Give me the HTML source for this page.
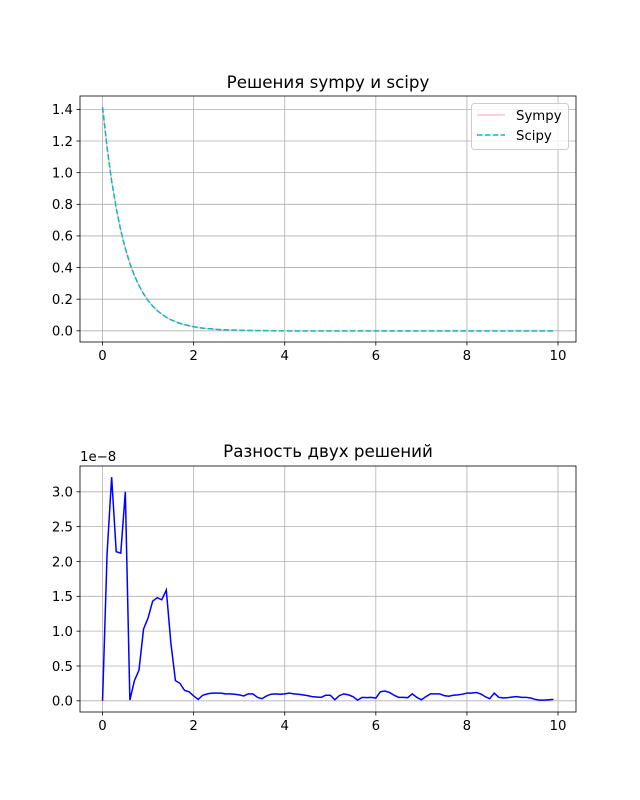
<!DOCTYPE html>
<html><head><meta charset="utf-8"><style>
html,body{margin:0;padding:0;background:#fff;}
svg{display:block;font-family:"DejaVu Sans","Liberation Sans",sans-serif;}
</style></head><body>
<svg id="fig" width="640" height="800"></svg>
<script>
// top chart data (t step 0.1 from 0 to 9.9)
const topCount = 100;
const sympyVals = [1.414,1.158,0.948,0.776,0.635,0.520,0.426,0.349,0.286,0.234,0.191,0.157,0.128,0.105,0.086,0.070,0.058,0.047,0.039,0.032,0.026,0.021,0.017,0.014,0.012,0.0095,0.0078,0.0064,0.0052,0.0043,0.0035,0.0029,0.0023,0.0019,0.0016,0.0013,0.001,0.0008,0.0007,0.0005];
const topXTicks = [0,2,4,6,8,10];
const topYTicks = [0.0,0.2,0.4,0.6,0.8,1.0,1.2,1.4];
// bottom chart data (units of 1e-8)
const diffVals = [0,2.12,3.21,2.14,2.12,3.0,0.01,0.29,0.44,1.03,1.19,1.43,1.48,1.45,1.59,0.83,0.29,0.25,0.15,0.13,
0.07,0.02,0.08,0.10,0.11,0.11,0.11,0.10,0.10,0.095,0.085,0.07,0.10,0.10,0.05,0.03,0.07,0.095,0.10,0.095,
0.10,0.11,0.10,0.095,0.085,0.075,0.06,0.055,0.05,0.08,0.08,0.015,0.075,0.10,0.085,0.06,0.01,0.05,0.045,0.05,
0.04,0.13,0.14,0.12,0.08,0.05,0.05,0.045,0.10,0.05,0.015,0.06,0.10,0.10,0.10,0.075,0.065,0.08,0.085,0.095,
0.11,0.11,0.12,0.10,0.06,0.03,0.11,0.05,0.04,0.045,0.055,0.06,0.05,0.05,0.04,0.02,0.01,0.01,0.015,0.02];
const botYTicks = [0.0,0.5,1.0,1.5,2.0,2.5,3.0];

const NS="http://www.w3.org/2000/svg";
const svg=document.getElementById('fig');
function mk(tag,attrs,parent){const e=document.createElementNS(NS,tag);for(const k in attrs)e.setAttribute(k,attrs[k]);(parent||svg).appendChild(e);return e;}

function axes(L,T,R,B,xmin,xmax,ymin,ymax,xt,yt,fmt,name){
  const g=mk('g',{});
  
  
  const sx=v=>L+(v-xmin)/(xmax-xmin)*(R-L);
  const sy=v=>B-(v-ymin)/(ymax-ymin)*(B-T);
  xt.forEach(v=>{const x=sx(v);
    const l=mk('line',{x1:x,x2:x,y1:T,y2:B,stroke:'#b0b0b0','stroke-width':0.8},g);
    
    mk('line',{x1:x,x2:x,y1:B,y2:B+3.5,stroke:'#000','stroke-width':0.8},g);
    const t=mk('text',{x:x,y:B+18,'text-anchor':'middle','font-size':'13.3'},g);t.textContent=String(v);
    });
  yt.forEach(v=>{const y=sy(v);
    const l=mk('line',{x1:L,x2:R,y1:y,y2:y,stroke:'#b0b0b0','stroke-width':0.8},g);
    
    mk('line',{x1:L-3.5,x2:L,y1:y,y2:y,stroke:'#000','stroke-width':0.8},g);
    const t=mk('text',{x:L-7,y:y+4.8,'text-anchor':'end','font-size':'13.3'},g);t.textContent=v.toFixed(1);
    });
  return {g,sx,sy,L,T,R,B};
}
function frame(a){const r=mk('rect',{x:a.L,y:a.T,width:a.R-a.L,height:a.B-a.T,fill:'none',stroke:'#000','stroke-width':0.8},a.g);
  }
function pts(a,vals,n){let s=[];for(let i=0;i<n;i++){const v=i<vals.length?vals[i]:0;s.push(a.sx(i*0.1).toFixed(2)+','+a.sy(v).toFixed(2));}return s.join(' ');}

// Top
const A=axes(80,96,576,342,-0.495,10.395,-0.0707,1.4847,topXTicks,topYTicks,null,'top-chart');
const p1=mk('polyline',{points:pts(A,sympyVals,topCount),fill:'none',stroke:'#ffc0cb','stroke-width':1.5},A.g);

const p2=mk('polyline',{points:pts(A,sympyVals,topCount),fill:'none',stroke:'#00bfbf','stroke-width':1.5,'stroke-dasharray':'5.5,2.4'},A.g);

frame(A);
const t1=mk('text',{x:328,y:88,'text-anchor':'middle','font-size':'16.7'});t1.textContent='Решения sympy и scipy';

// legend
const lg=mk('g',{});

mk('rect',{x:471.5,y:103.5,width:97,height:46,rx:3,fill:'#fff','fill-opacity':0.8,stroke:'#ccc'},lg);
mk('line',{x1:477,x2:505,y1:115,y2:115,stroke:'#ffc0cb','stroke-width':1.5},lg);
const le1=mk('text',{x:516,y:120,'font-size':'13.3'},lg);le1.textContent='Sympy';

mk('line',{x1:477,x2:505,y1:135,y2:135,stroke:'#00bfbf','stroke-width':1.5,'stroke-dasharray':'5.5,2.4'},lg);
const le2=mk('text',{x:516,y:140,'font-size':'13.3'},lg);le2.textContent='Scipy';


// Bottom
const B2=axes(80,466,576,712,-0.495,10.395,-0.1605,3.3705,topXTicks,botYTicks,null,'bottom-chart');
const p3=mk('polyline',{points:pts(B2,diffVals,diffVals.length),fill:'none',stroke:'#0000ff','stroke-width':1.5},B2.g);

frame(B2);
const t2=mk('text',{x:328,y:457,'text-anchor':'middle','font-size':'16.7'});t2.textContent='Разность двух решений';

const off=mk('text',{x:80,y:461,'font-size':'13.3'});off.textContent='1e−8';

</script>
</body></html>
